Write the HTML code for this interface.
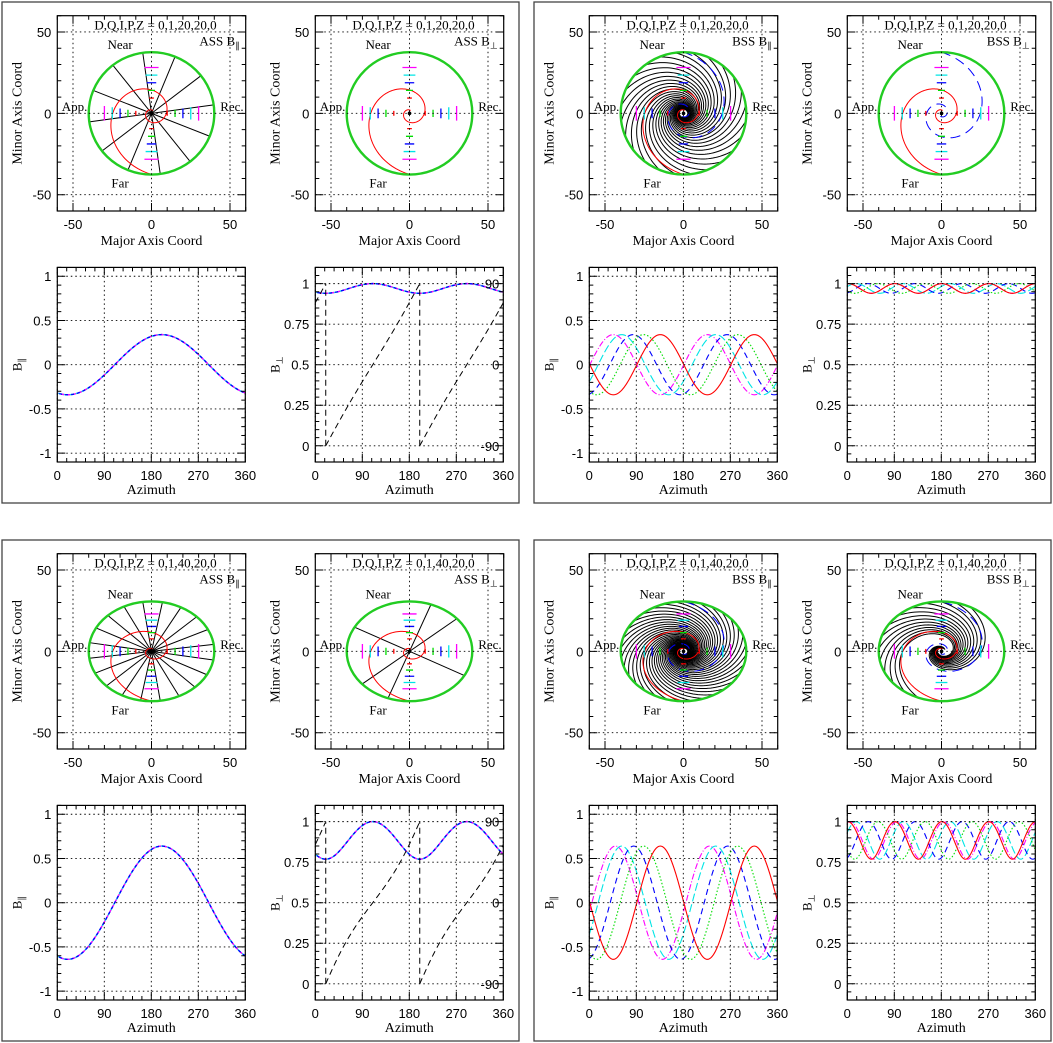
<!DOCTYPE html>
<html><head><meta charset="utf-8"><title>Magnetic field models</title>
<style>
html,body{margin:0;padding:0;background:#fff;}
svg{display:block;}
.tk{font-family:"Liberation Sans",sans-serif;font-size:13px;fill:#000;}
.tt{font-family:"Liberation Serif",serif;font-size:14px;fill:#000;}
.ts{font-family:"Liberation Serif",serif;font-size:13px;fill:#000;}
</style></head>
<body>
<svg id="fig" width="1053" height="1043" viewBox="0 0 1053 1043" xmlns="http://www.w3.org/2000/svg">
<rect x="0" y="0" width="1053" height="1043" fill="#fff"/>
</svg>
<script>
// ---------- data ----------
const panelInclinations = [20, 20, 40, 40];
const panelModels = ['ASS', 'BSS', 'ASS', 'BSS'];
const panelLabels = ['0,1,20,20,0', '0,1,20,20,0', '0,1,40,20,0', '0,1,40,20,0'];
const assParAmp = [0.34, 0.64];
const assParPeak = [200, 200];
const bssParAmp = [0.34, 0.64];
const bssPeaksTop = [46, 62, 84, 104, 136];
const bssPeaksBottom = [50, 62, 85, 104, 136];
const seriesColors = ['#ff00ff', '#00e5e5', '#0000ff', '#00dd00', '#ff0000'];
const seriesDash = ['6,2,1,2', '8,3', '6,4', '1.5,2', 'none'];
const azTicks = [0, 90, 180, 270, 360];
const bParTicks = [-1, -0.5, 0, 0.5, 1];
const bPerpTicks = [0, 0.25, 0.5, 0.75, 1];
const angleTickLabels = ['-90', '0', '90'];
const mapTicks = [-50, 0, 50];
const barRadii = [10, 15, 20, 25, 30];
const barColors = ['#ff0000', '#00dd00', '#0000ff', '#00e5e5', '#ff00ff'];
const assParSpokes = [12, 20];
const assPerpSpokeAngles = [[], [151, 331, 41, 221, 70, 250]];
const bssParArms = [24, 32];
const bssPerpArms = [0, 14];
const diskRadius = 40;
const pitchDeg = 17;
const armPitchDeg = 22;

// ---------- helpers ----------
const NS = 'http://www.w3.org/2000/svg';
const svg = document.getElementById('fig');
function mk(tag, attrs, parent) {
  const e = document.createElementNS(NS, tag);
  for (const k in attrs) e.setAttribute(k, attrs[k]);
  (parent || svg).appendChild(e);
  return e;
}
function pathD(pts) {
  return pts.map((p, i) => (i ? 'L' : 'M') + p[0].toFixed(2) + ',' + p[1].toFixed(2)).join('');
}
let clipId = 0;
function makeClip(x, y, w, h) {
  clipId++;
  const cp = mk('clipPath', {id: 'c' + clipId});
  mk('rect', {x: x, y: y, width: w, height: h}, cp);
  return 'url(#c' + clipId + ')';
}
function makeEllipseClip(cx, cy, rx, ry) {
  clipId++;
  const cp = mk('clipPath', {id: 'c' + clipId});
  mk('ellipse', {cx: cx, cy: cy, rx: rx, ry: ry}, cp);
  return 'url(#c' + clipId + ')';
}
function fmt(v) { return (v < 0 ? '-' : '') + String(Math.abs(v)); }

function axesFrame(g, x0, y0, w, h, sx, sy, xr, yr, xMaj, xMin, yMaj, yMin, grid) {
  xMaj.forEach(v => { if (grid) { const l = mk('line', {x1: sx(v), x2: sx(v), y1: y0, y2: y0 + h, stroke: '#000', 'stroke-width': 0.9, 'stroke-dasharray': '1.5,3'}, g);
    
     } });
  yMaj.forEach(v => { if (grid) { const l = mk('line', {x1: x0, x2: x0 + w, y1: sy(v), y2: sy(v), stroke: '#000', 'stroke-width': 0.9, 'stroke-dasharray': '1.5,3'}, g);
    
     } });
  let d = '';
  for (let v = xr[0]; v <= xr[1] + 1e-9; v += xMin) {
    const maj = xMaj.some(m => Math.abs(m - v) < 1e-6); const L = maj ? 8 : 4; const X = sx(v);
    d += `M${X},${y0 + h}v${-L}M${X},${y0}v${L}`;
  }
  for (let v = Math.ceil(yr[0] / yMin - 1e-9) * yMin; v <= yr[1] + 1e-9; v += yMin) {
    const maj = yMaj.some(m => Math.abs(m - v) < 1e-6); const L = maj ? 8 : 4; const Y = sy(v);
    d += `M${x0},${Y}h${L}M${x0 + w},${Y}h${-L}`;
  }
  const t = mk('path', {d: d, stroke: '#000', 'stroke-width': 1, fill: 'none'}, g);
  
  
  const b = mk('rect', {x: x0, y: y0, width: w, height: h, fill: 'none', stroke: '#000', 'stroke-width': 1.2}, g);
  
  
}
function txt(g, x, y, s, cls, anchor, name) {
  const t = mk('text', {x: x, y: y, class: cls, 'text-anchor': anchor || 'middle'}, g);
  t.textContent = s;
  
  
  return t;
}
function subLabel(g, x, y, base, sub, rotate, name, anchor) {
  const t = mk('text', {x: x, y: y, class: 'ts', 'text-anchor': anchor || 'middle'}, g);
  if (rotate) t.setAttribute('transform', `rotate(-90 ${x} ${y})`);
  const a = mk('tspan', {}, t); a.textContent = base;
  const b = mk('tspan', {dy: 3, 'font-size': 9}, t); b.textContent = sub;
  
  
  return t;
}

// ---------- map plot ----------
function drawMap(ox, oy, p, comp) {
  const inc = panelInclinations[p], ci = Math.cos(inc * Math.PI / 180), row = p < 2 ? 0 : 1;
  const model = panelModels[p];
  const X0 = ox + 55.3, Y0 = oy + 13.7, W = 188.4, H = 195.3;
  const sx = v => X0 + (v + 60) * W / 120, sy = v => Y0 + (60 - v) * H / 120;
  const gp = (r, th) => [sx(r * Math.cos(th)), sy(r * Math.sin(th) * ci)];
  const g = mk('g', {});
  
  
  const inner = mk('g', {'clip-path': makeClip(X0, Y0, W, H)}, g);
  const rx = diskRadius * W / 120, ry = diskRadius * ci * H / 120;
  const disk = mk('g', {'clip-path': makeEllipseClip(sx(0), sy(0), rx, ry)}, inner);
  axesFrame(g, X0, Y0, W, H, sx, sy, [-60, 60], [-60, 60], mapTicks, 10, mapTicks, 10, true);
  const spiral = (phi, rmin, rmax, pitch) => { const k = Math.tan(pitch * Math.PI / 180); const pts = []; const T = Math.log(rmax / rmin) / k;
    for (let t = 0; t <= T; t += 0.04) pts.push(gp(rmax * Math.exp(-k * t), phi - t)); return pts; };
  let blk = [];
  if (model === 'ASS' && comp === 'par') {
    const n = assParSpokes[row];
    for (let i = 0; i < n; i++) { const th = (i * 360 / n + 8) * Math.PI / 180; blk.push([gp(0, 0), gp(diskRadius, th)]); }
  } else if (model === 'ASS') {
    assPerpSpokeAngles[row].forEach(a => blk.push([gp(0, 0), gp(diskRadius, a * Math.PI / 180)]));
  } else {
    const n = comp === 'par' ? bssParArms[row] : bssPerpArms[row];
    for (let i = 0; i < n; i++) {
      const phi = comp === 'par' ? i * 2 * Math.PI / n : (100 + i * 200 / n) * Math.PI / 180;
      blk.push(spiral(phi, 2.5, diskRadius * 1.3, armPitchDeg));
    }
  }
  blk.forEach(pts => { const l = mk('path', {d: pathD(pts), stroke: '#000', 'stroke-width': 1, fill: 'none'}, disk);
    
     });
  const red = mk('path', {d: pathD(spiral(330 * Math.PI / 180, 2, 55, pitchDeg)), stroke: '#ff0000', 'stroke-width': 1, fill: 'none'}, disk);
  
  
  if (model === 'BSS') {
    const blue = mk('path', {d: pathD(spiral(150 * Math.PI / 180, 2, 55, pitchDeg)), stroke: '#0000ff', 'stroke-width': 1, fill: 'none', 'stroke-dasharray': '10,6'}, disk);
    
    
  }
  barRadii.forEach((r, i) => {
    const h = 0.3 * r;
    [-1, 1].forEach(s => {
      const v = mk('line', {x1: sx(s * r), x2: sx(s * r), y1: sy(h / 2), y2: sy(-h / 2), stroke: barColors[i], 'stroke-width': 1.3}, inner);
      
      
      const hh = mk('line', {x1: sx(-h / 2), x2: sx(h / 2), y1: sy(s * r * ci), y2: sy(s * r * ci), stroke: barColors[i], 'stroke-width': 1.3}, inner);
      
      
    });
  });
  const e = mk('ellipse', {cx: sx(0), cy: sy(0), rx: rx, ry: ry, fill: 'none', stroke: '#22cc22', 'stroke-width': 2.4}, inner);
  
  
  const c = mk('circle', {cx: sx(0), cy: sy(0), r: 1.8, fill: '#000'}, inner);
  
  
  txt(g, X0 + W / 2 + 4, Y0 + 14, 'D,Q,I,P,Z = ' + panelLabels[p], 'ts', 'middle', 'model-parameters');
  subLabel(g, X0 + W - 6, Y0 + 30, model + ' B', comp === 'par' ? '\u2225' : '\u22A5', false, 'component-label', 'end');
  const b = diskRadius * ci;
  txt(g, sx(-20), sy(b + 5) + 5, 'Near', 'ts', 'middle', 'near-label');
  txt(g, sx(-20), sy(-b - 5) + 5, 'Far', 'ts', 'middle', 'far-label');
  txt(g, sx(-49), sy(4.5) + 5, 'App.', 'ts', 'middle', 'approaching-label');
  txt(g, X0 + W - 2, sy(4.5) + 5, 'Rec.', 'ts', 'end', 'receding-label');
  mapTicks.forEach(v => { txt(g, sx(v), Y0 + H + 18, fmt(v), 'tk', 'middle', 'x-tick-label');
    txt(g, X0 - 6, sy(v) + 5, fmt(v), 'tk', 'end', 'y-tick-label'); });
  txt(g, X0 + W / 2, Y0 + H + 34, 'Major Axis Coord', 'tt', 'middle', 'x-axis-title');
  const yt = txt(g, X0 - 36, Y0 + H / 2, 'Minor Axis Coord', 'tt', 'middle', 'y-axis-title');
  yt.setAttribute('transform', `rotate(-90 ${X0 - 36} ${Y0 + H / 2})`);
}

// ---------- line plot ----------
function drawLine(ox, oy, p, comp) {
  const inc = panelInclinations[p], ci = Math.cos(inc * Math.PI / 180), row = p < 2 ? 0 : 1;
  const model = panelModels[p];
  const X0 = ox + 55.3, Y0 = oy + 265.4, W = 188, H = 194.6;
  const yr = comp === 'par' ? [-1.1, 1.1] : [-0.1, 1.1];
  const sx = v => X0 + v * W / 360, sy = v => Y0 + (yr[1] - v) * H / (yr[1] - yr[0]);
  const g = mk('g', {});
  
  
  const inner = mk('g', {'clip-path': makeClip(X0, Y0, W, H)}, g);
  const yMaj = comp === 'par' ? bParTicks : bPerpTicks;
  axesFrame(g, X0, Y0, W, H, sx, sy, [0, 360], [yr[0], yr[1]], azTicks, 18, yMaj, comp === 'par' ? 0.1 : 0.05, true);
  const curve = (fn) => { const pts = []; for (let a = 0; a <= 360; a += 1) pts.push([sx(a), sy(fn(a))]); return pts; };
  const rad = Math.PI / 180;
  if (model === 'ASS') {
    const A = assParAmp[row], pk = assParPeak[row];
    const par = a => A * Math.cos((a - pk) * rad);
    const fn = comp === 'par' ? par : (a => Math.sqrt(1 - par(a) * par(a)));
    ['#00e5e5', '#ff00ff', '#0000ff'].forEach((col, i) => {
      const l = mk('path', {d: pathD(curve(fn)), stroke: col, 'stroke-width': 1.4, fill: 'none', 'stroke-dasharray': i === 0 ? 'none' : '3,3', 'stroke-dashoffset': i * 2}, inner);
      
      
    });
    if (comp === 'perp') {
      const jump = ((pk % 180) + 180) % 180;
      let segs = [[]];
      for (let a = 0; a <= 360; a += 1) {
        const phi = (((a - jump) % 180) + 180) % 180;
        if (a > 0 && phi === 0) segs.push([]);
        const psi = Math.atan(ci * Math.tan((phi - 90) * rad)) / rad;
        segs[segs.length - 1].push([sx(a), sy((psi + 90) / 180)]);
      }
      segs.forEach(s => { const l = mk('path', {d: pathD(s), stroke: '#000', 'stroke-width': 1, fill: 'none', 'stroke-dasharray': '6,4'}, inner);
        
         });
      [jump, jump + 180].forEach(a => { const l = mk('line', {x1: sx(a), x2: sx(a), y1: sy(0), y2: sy(1), stroke: '#000', 'stroke-width': 1, 'stroke-dasharray': '6,4'}, inner);
        
         });
      angleTickLabels.forEach((s, i) => txt(g, X0 + W - 4, sy(i * 0.5) + 5, s, 'tk', 'end', 'right-tick-label'));
    }
  } else {
    const A = bssParAmp[row], peaks = row === 0 ? bssPeaksTop : bssPeaksBottom;
    peaks.forEach((pk, i) => {
      const par = a => A * Math.cos(2 * (a - pk) * rad);
      const fn = comp === 'par' ? par : (a => Math.sqrt(1 - par(a) * par(a)));
      const l = mk('path', {d: pathD(curve(fn)), stroke: seriesColors[i], 'stroke-width': 1.1, fill: 'none', 'stroke-dasharray': seriesDash[i]}, inner);
      
      
    });
  }
  azTicks.forEach(v => txt(g, sx(v), Y0 + H + 18, String(v), 'tk', 'middle', 'x-tick-label'));
  yMaj.forEach(v => txt(g, X0 - 6, sy(v) + 5, fmt(v), 'tk', 'end', 'y-tick-label'));
  txt(g, X0 + W / 2, Y0 + H + 32, 'Azimuth', 'tt', 'middle', 'x-axis-title');
  subLabel(g, X0 - 36, Y0 + H / 2, 'B', comp === 'par' ? '\u2225' : '\u22A5', true, 'y-axis-title');
}

// ---------- panels ----------
const panelX = [2, 534, 2, 534], panelY = [2, 2, 540, 540];
for (let p = 0; p < 4; p++) {
  const fr = mk('rect', {x: panelX[p], y: panelY[p], width: 517, height: 501, fill: 'none', stroke: '#444', 'stroke-width': 1.3});
  
  
  drawMap(panelX[p], panelY[p], p, 'par');
  drawMap(panelX[p] + 258, panelY[p], p, 'perp');
  drawLine(panelX[p], panelY[p], p, 'par');
  drawLine(panelX[p] + 258, panelY[p], p, 'perp');
}
</script>
</body></html>
